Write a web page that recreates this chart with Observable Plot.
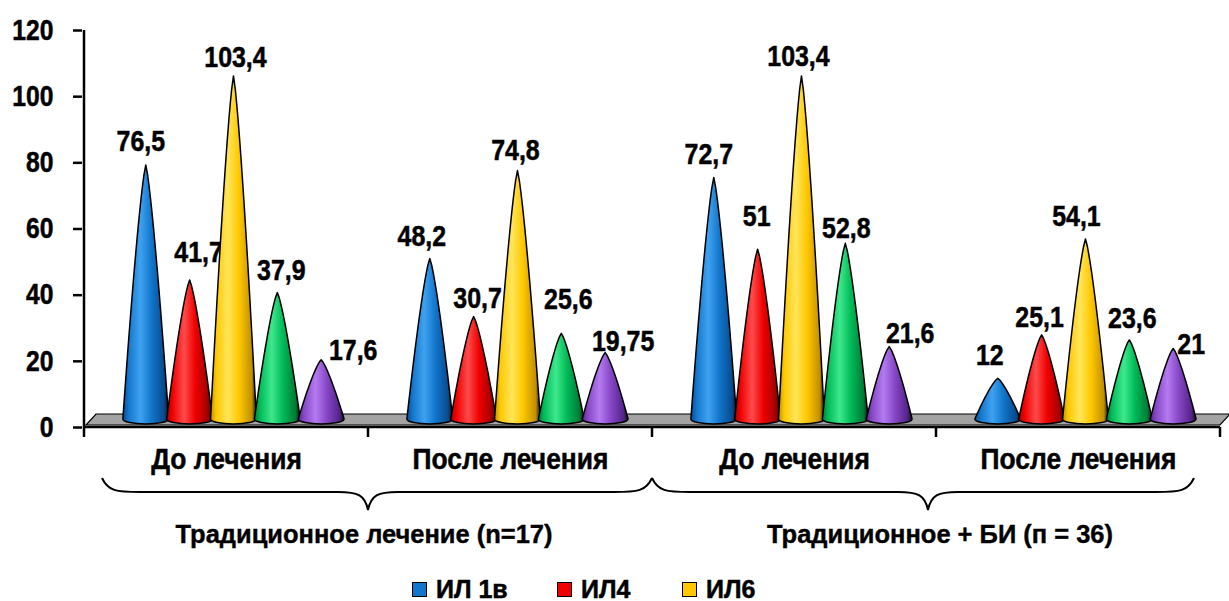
<!DOCTYPE html>
<html>
<head>
<meta charset="utf-8">
<script src="https://cdn.jsdelivr.net/npm/d3@7"></script>
<script src="https://cdn.jsdelivr.net/npm/@observablehq/plot@0.6"></script>
<style>
  body { margin: 0; background: #fff; }
  #chart { width: 1229px; }
  #chart svg text { font-weight: bold; }
  .legend { position: relative; height: 38px; font-family: "Liberation Sans", Arial, sans-serif; font-weight: bold; font-size: 25px; -webkit-text-stroke: 0.5px #000; }
  .legend .item { position: absolute; top: 12px; display: flex; align-items: center; }
  .legend .sw { width: 13px; height: 13px; border: 1.5px solid #000; margin-right: 9px; }
</style>
</head>
<body>
<div id="chart"></div>
<script>
// Categories
const groupKeys = ["g1", "g2", "g3", "g4"];
const groupLabels = ["До лечения", "После лечения", "До лечения", "После лечения"];
const cohortLabels = ["Традиционное лечение (n=17)", "Традиционное + БИ (п = 36)"];
const legendLabels = ["ИЛ 1в", "ИЛ4", "ИЛ6"];

// Series values, one entry per group
const il1b = [76.5, 48.2, 72.7, 12];
const il4 = [41.7, 30.7, 51, 25.1];
const il6 = [103.4, 74.8, 103.4, 54.1];
const seriesGreen = [37.9, 25.6, 52.8, 23.6];
const seriesViolet = [17.6, 19.75, 21.6, 21];

// Axis ticks
const yTicks = [0, 20, 40, 60, 80, 100, 120];

const seriesValues = [il1b, il4, il6, seriesGreen, seriesViolet];

// Cone shading: [edge, body, highlight]
const palettes = [
  ["#084a8c", "#1276cc", "#3fa2f0"],
  ["#a00000", "#f00000", "#ff4a4a"],
  ["#c08f00", "#ffc800", "#ffe55a"],
  ["#007a36", "#00bb58", "#3ee88c"],
  ["#55238a", "#8747c6", "#b47af0"]
];

// Value-label nudges (px) relative to each cone tip, [group][series]
const labelNudge = [
  [[-5, -24], [9, -28], [2, -19], [4, -22], [32, -9]],
  [[-8, -22], [4, -18], [-2, -20], [7, -34], [18, -11]],
  [[-5, -23], [-1, -33], [-3, -20], [1, -15], [21, -13]],
  [[-8, -23], [-2, -18], [-9, -23], [3, -22], [18, -4]]
];

const rows = [];
groupKeys.forEach((g, gi) => seriesValues.forEach((vals, si) => rows.push({group: g, gi, si, value: vals[gi]})));

const fmt = v => String(v).replace(".", ",");
const FONT = '"Liberation Sans", Arial, sans-serif';

// Narrow bold text placed at (x, y)
function label(g, x, y, txt, size, squeeze, weight = 0.5) {
  return g.append("text")
    .attr("transform", `translate(${x},${y}) scale(${squeeze},1)`)
    .attr("text-anchor", "middle").attr("dominant-baseline", "central")
    .attr("font-family", FONT).attr("font-weight", "bold").attr("font-size", size)
    .attr("fill", "#000").attr("stroke", "#000").attr("stroke-width", weight)
    .text(txt);
}

// Floor plate, axis lines and group-boundary ticks
function frame(index, scales) {
  const {x, y} = scales;
  const bw = x.bandwidth();
  const x0 = x(groupKeys[0]);
  const x1 = x(groupKeys[groupKeys.length - 1]) + bw;
  const y0 = y(0);
  const g = d3.create("svg:g");
  g.append("path")
    .attr("d", `M${x0 + 2},${y0 - 2} L${x0 + 12},${y0 - 13} L${x1 + 10},${y0 - 13} L${x1},${y0 - 2} Z`)
    .attr("fill", "#a3a3a3").attr("stroke", "#000").attr("stroke-width", 1.2);
  g.append("line").attr("x1", x0).attr("x2", x1).attr("y1", y0).attr("y2", y0)
    .attr("stroke", "#000").attr("stroke-width", 2.5);
  g.append("line").attr("x1", x0).attr("x2", x0).attr("y1", y(120)).attr("y2", y0 + 10)
    .attr("stroke", "#000").attr("stroke-width", 2.5);
  groupKeys.forEach(k => {
    const xe = x(k) + bw;
    g.append("line").attr("x1", xe).attr("x2", xe).attr("y1", y0).attr("y2", y0 + 10)
      .attr("stroke", "#000").attr("stroke-width", 2.5);
  });
  return g.node();
}

// Cones with their value labels; the perspective makes the flanks slightly convex
function cones(index, scales) {
  const {x, y} = scales;
  const bw = x.bandwidth();
  const g = d3.create("svg:g");
  const defs = g.append("defs");
  palettes.forEach((p, i) => {
    const lg = defs.append("linearGradient").attr("id", "cone" + i).attr("x1", 0).attr("x2", 1).attr("y1", 0).attr("y2", 0);
    [[0, p[0]], [0.12, p[1]], [0.38, p[2]], [0.62, p[1]], [0.9, p[0]], [1, "#111"]].forEach(([o, c]) =>
      lg.append("stop").attr("offset", o).attr("stop-color", c));
  });
  const depth = 9;
  const half = bw * 23 / 285;
  const ry = 5;
  const steps = 24;
  rows.forEach(r => {
    const cx = x(r.group) + bw * (62 + 44 * r.si) / 285;
    const yb = y(0) - depth + 1;
    const yt = y(r.value) - depth;
    const left = [], right = [];
    for (let k = 0; k <= steps; ++k) {
      const t = k / steps;
      const w = half * Math.pow(t, 0.78);
      const yy = yt + t * (yb - yt);
      left.push([cx - w, yy]);
      right.push([cx + w, yy]);
    }
    const pts = left.reverse().concat(right.slice(1));
    const d = "M" + pts.map(p => p.join(",")).join("L") + ` A${half},${ry} 0 0 1 ${cx - half},${yb} Z`;
    g.append("path")
      .attr("d", d)
      .attr("fill", `url(#cone${r.si})`)
      .attr("stroke", "#000").attr("stroke-width", 1.5).attr("stroke-linejoin", "round");
    const [ndx, ndy] = labelNudge[r.gi][r.si];
    label(g, cx + ndx, yt + ndy, fmt(r.value), 29, 0.86);
  });
  return g.node();
}

// Curly braces and cohort captions under the group labels
function braces(index, scales) {
  const {x} = scales;
  const bw = x.bandwidth();
  const g = d3.create("svg:g");
  const yTop = 478, yMid = 492, yBot = 510;
  const spans = [
    [x(groupKeys[0]) + 18, x(groupKeys[1]) + bw, (x(groupKeys[0]) + x(groupKeys[1]) + bw) / 2],
    [x(groupKeys[2]), x(groupKeys[3]) + bw - 26, (x(groupKeys[2]) + x(groupKeys[3]) + bw) / 2 - 8]
  ];
  spans.forEach(([a, b, m], i) => {
    const d = `M${a},${yTop} C${a + 6},${yMid - 1} ${a + 14},${yMid} ${a + 38},${yMid}`
      + ` L${m - 30},${yMid} C${m - 10},${yMid} ${m - 3},${yMid + 3} ${m},${yBot}`
      + ` C${m + 3},${yMid + 3} ${m + 10},${yMid} ${m + 30},${yMid}`
      + ` L${b - 38},${yMid} C${b - 14},${yMid} ${b - 6},${yMid - 1} ${b},${yTop}`;
    g.append("path").attr("d", d).attr("fill", "none").attr("stroke", "#000").attr("stroke-width", 2);
  });
  label(g, (x(groupKeys[0]) + x(groupKeys[1]) + bw) / 2 - 4, 534, cohortLabels[0], 26, 0.98, 0.4);
  label(g, (x(groupKeys[2]) + x(groupKeys[3]) + bw) / 2 + 4, 534, cohortLabels[1], 26, 0.98, 0.4);
  return g.node();
}

const H = 563;
const chart = Plot.plot({
  width: 1229,
  height: H,
  marginLeft: 82,
  marginRight: 8,
  marginTop: 30,
  marginBottom: H - 427,
  style: {fontFamily: FONT, background: "#fff", overflow: "visible"},
  x: {type: "band", domain: groupKeys, padding: 0, axis: null},
  y: {domain: [0, 120], axis: null},
  marks: [
    frame,
    Plot.axisY({ticks: yTicks, tickSize: 9, tickPadding: 20, fontSize: 29, fontWeight: "bold", strokeWidth: 2.5, tickFormat: d => String(d)}),
    Plot.axisX({tickSize: 0, tickPadding: 20, fontSize: 30, fontWeight: "bold", tickFormat: k => groupLabels[groupKeys.indexOf(k)]}),
    cones,
    braces
  ]
});

// Condense the axis tick labels horizontally around their anchors and thicken them
chart.querySelectorAll('g[aria-label="y-axis tick label"] text').forEach(t => {
  t.setAttribute("transform", (t.getAttribute("transform") || "") + " scale(0.85,1)");
  t.setAttribute("stroke", "#000"); t.setAttribute("stroke-width", "0.5");
});
chart.querySelectorAll('g[aria-label="x-axis tick label"] text').forEach(t => {
  t.setAttribute("transform", (t.getAttribute("transform") || "") + " scale(0.88,1)");
  t.setAttribute("stroke", "#000"); t.setAttribute("stroke-width", "0.5");
});

document.getElementById("chart").appendChild(chart);

// Legend row under the chart
const legend = d3.select("#chart").append("div").attr("class", "legend");
const legendLeft = [412, 557, 682];
legendLabels.forEach((lab, i) => {
  const it = legend.append("div").attr("class", "item").style("left", legendLeft[i] + "px");
  it.append("div").attr("class", "sw").style("background", palettes[i][1]);
  it.append("span").text(lab);
});
</script>
</body>
</html>
